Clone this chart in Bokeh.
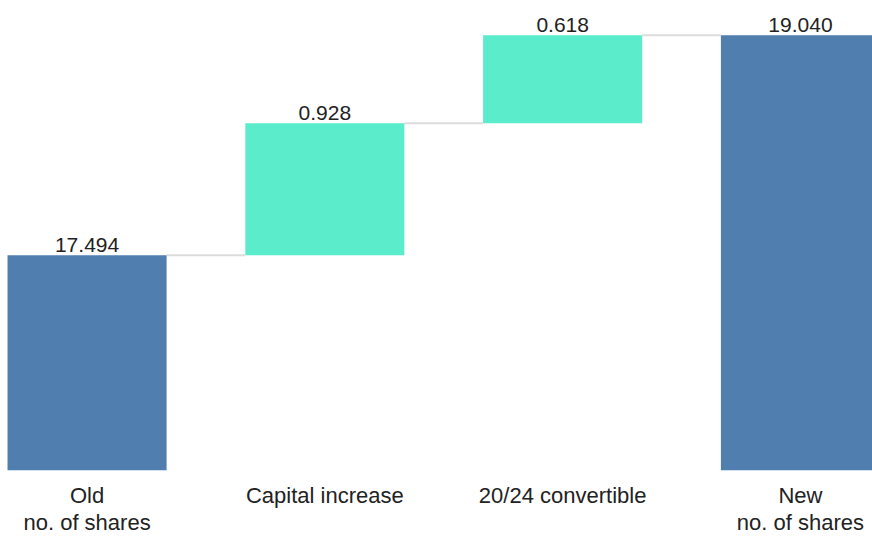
from bokeh.plotting import figure
from bokeh.models import ColumnDataSource, FixedTicker
from bokeh.core.properties import value
from bokeh.embed import file_html
from bokeh.resources import INLINE

categories = ["Old\nno. of shares", "Capital increase", "20/24 convertible", "New\nno. of shares"]
values = [17.494, 0.928, 0.618, 19.040]
kinds = ["total", "delta", "delta", "total"]
labels = ["17.494", "0.928", "0.618", "19.040"]
axis_base = 15.983

BLUE = "#507eae"
TEAL = "#5aeccb"

xs = list(range(len(categories)))
bottoms, tops, colors = [], [], []
running = 0.0
for v, k in zip(values, kinds):
    if k == "total":
        bottoms.append(axis_base)
        tops.append(v)
        running = v
        colors.append(BLUE)
    else:
        bottoms.append(running)
        running = running + v
        tops.append(running)
        colors.append(TEAL)

src = ColumnDataSource(dict(x=xs, bottom=bottoms, top=tops, color=colors, label=labels))

# connectors between consecutive bars
bar_w = 0.669
cx0 = [xs[i] + bar_w / 2 for i in range(len(xs) - 1)]
cx1 = [xs[i + 1] - bar_w / 2 for i in range(len(xs) - 1)]
cy = [tops[i] for i in range(len(xs) - 1)]
csrc = ColumnDataSource(dict(x0=cx0, x1=cx1, y=cy))

p = figure(width=872, height=538, output_backend="svg", toolbar_location=None,
           x_range=(-0.364, 3.303), y_range=(axis_base, 19.284),
           min_border=0, min_border_left=0, min_border_right=0, min_border_top=0)

p.segment(x0="x0", y0="y", x1="x1", y1="y", source=csrc, line_color="#dcdcdc", line_width=2)
p.vbar(x="x", width=bar_w, bottom="bottom", top="top", fill_color="color", line_color=None, source=src)
p.text(x="x", y="top", text="label", source=src, text_align="center", text_baseline="bottom",
       y_offset=-3, text_font=value("Liberation Sans"), text_font_size="21px", text_color="#222222")

p.xaxis.ticker = FixedTicker(ticks=xs)
p.xaxis.major_label_overrides = {i: c for i, c in zip(xs, categories)}
p.xaxis.major_label_text_font = "Liberation Sans"
p.xaxis.major_label_text_font_size = "22px"
p.xaxis.major_label_text_line_height = 1.1
p.xaxis.major_label_text_color = "#222222"
p.xaxis.major_label_standoff = 6
p.xaxis.axis_line_color = None
p.xaxis.major_tick_line_color = None
p.xaxis.minor_tick_line_color = None
p.yaxis.visible = False
p.xgrid.visible = False
p.ygrid.visible = False
p.outline_line_color = None
p.background_fill_color = "white"
p.border_fill_color = "white"

open("out.html", "w").write(file_html(p, INLINE))
